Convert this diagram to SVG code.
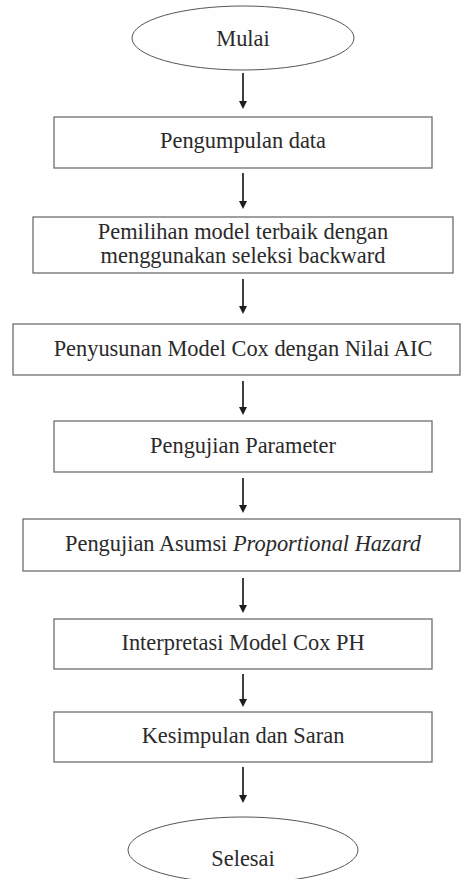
<svg xmlns="http://www.w3.org/2000/svg" width="462" height="879" viewBox="0 0 462 879">
<style>
.box{fill:#fefefe;stroke:#6e6e6e;stroke-width:1.3}
.ell{fill:#fefefe;stroke:#555;stroke-width:1}
.t{font-family:'Liberation Serif','Times New Roman','DejaVu Serif',serif;font-size:22.4px;fill:#2a2a2a;text-anchor:middle}
.c{stroke:#1e1e1e;stroke-width:1.7;fill:none;marker-end:url(#ah)}
</style>
<defs>
<marker id="ah" viewBox="0 0 10 10" refX="5" refY="5" markerWidth="8" markerHeight="9" markerUnits="userSpaceOnUse" orient="auto">
<path d="M0,0 L10,5 L0,10 z" fill="#1e1e1e"/>
</marker>
</defs>
<rect width="462" height="879" fill="#ffffff"/>
<g id="connectors">
<line class="c" x1="243" y1="73" x2="243" y2="105"/>
<line class="c" x1="243" y1="173" x2="243" y2="205"/>
<line class="c" x1="243" y1="279" x2="243" y2="310"/>
<line class="c" x1="243" y1="381" x2="243" y2="411"/>
<line class="c" x1="243" y1="478" x2="243" y2="509"/>
<line class="c" x1="243" y1="578" x2="243" y2="609"/>
<line class="c" x1="243" y1="674" x2="243" y2="703"/>
<line class="c" x1="243" y1="767" x2="243" y2="799"/>
</g>
<g id="mulai">
<ellipse class="ell" cx="243" cy="38" rx="111" ry="32"/>
<text class="t" x="243" y="46">Mulai</text>
</g>
<g id="pengumpulan">
<rect class="box" x="54" y="117" width="378" height="51"/>
<text class="t" x="243" y="148">Pengumpulan data</text>
</g>
<g id="pemilihan">
<rect class="box" x="33" y="217" width="420" height="56"/>
<text class="t" x="243" y="239">Pemilihan model terbaik dengan</text>
<text class="t" x="243" y="263">menggunakan seleksi backward</text>
</g>
<g id="penyusunan">
<rect class="box" x="13" y="324" width="447" height="51"/>
<text class="t" x="243" y="356">Penyusunan Model Cox dengan Nilai AIC</text>
</g>
<g id="parameter">
<rect class="box" x="54" y="421" width="378" height="51"/>
<text class="t" x="243" y="453">Pengujian Parameter</text>
</g>
<g id="asumsi">
<rect class="box" x="23" y="519" width="437" height="52"/>
<text class="t" x="243" y="551">Pengujian Asumsi <tspan font-style="italic">Proportional Hazard</tspan></text>
</g>
<g id="interpretasi">
<rect class="box" x="54" y="619" width="378" height="50"/>
<text class="t" x="243" y="650">Interpretasi Model Cox PH</text>
</g>
<g id="kesimpulan">
<rect class="box" x="54" y="712" width="378" height="50"/>
<text class="t" x="243" y="743">Kesimpulan dan Saran</text>
</g>
<g id="selesai">
<ellipse class="ell" cx="243" cy="850" rx="115" ry="33"/>
<text class="t" x="243" y="866">Selesai</text>
</g>
</svg>
